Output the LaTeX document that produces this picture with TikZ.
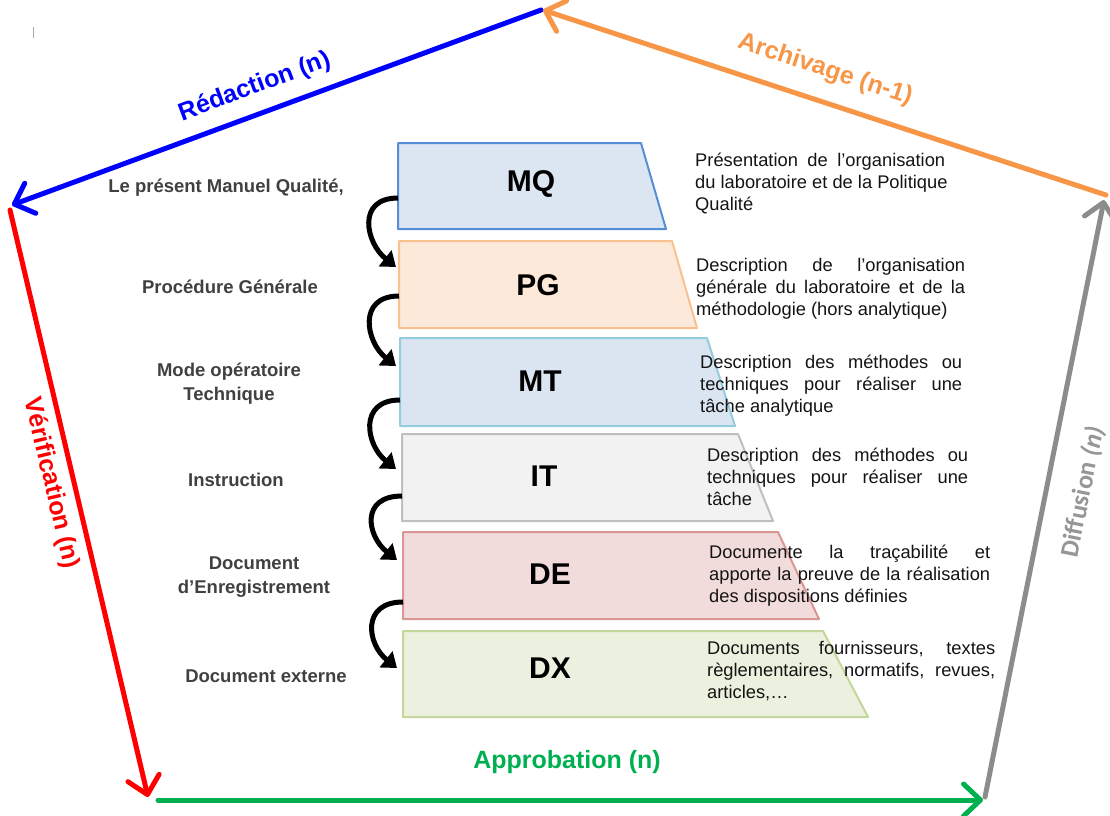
\documentclass[tikz,border=0pt]{standalone}
\usepackage{fontspec}
\setmainfont{Liberation Sans}
\newfontfamily\carlito{Carlito}
\usetikzlibrary{arrows.meta}
\definecolor{cblue}{RGB}{0,0,255}
\definecolor{cred}{RGB}{255,0,0}
\definecolor{cgreen}{RGB}{0,176,80}
\definecolor{cgray}{RGB}{140,140,140}
\definecolor{cgraytxt}{RGB}{150,150,150}
\definecolor{corange}{RGB}{247,150,70}
\definecolor{dgray}{RGB}{64,64,64}
\definecolor{txt}{RGB}{20,20,20}
\definecolor{mqfill}{RGB}{220,230,242}\definecolor{mqdraw}{RGB}{85,142,213}
\definecolor{pgfill}{RGB}{253,233,217}\definecolor{pgdraw}{RGB}{250,192,144}
\definecolor{mtfill}{RGB}{219,229,241}\definecolor{mtdraw}{RGB}{147,205,221}
\definecolor{itfill}{RGB}{242,242,242}\definecolor{itdraw}{RGB}{191,191,191}
\definecolor{defill}{RGB}{242,220,219}\definecolor{dedraw}{RGB}{217,150,148}
\definecolor{dxfill}{RGB}{235,241,222}\definecolor{dxdraw}{RGB}{195,214,155}
\newcommand{\jl}[2]{\makebox[#1][s]{#2}}
\begin{document}
\begin{tikzpicture}[x=1pt,y=-1pt,
  cycarrow/.style={line width=5pt,line cap=round,-{Straight Barb[length=17pt,width=32pt,round]}},
  cyclabel/.style={font=\fontsize{25}{28}\selectfont\bfseries,inner sep=0pt},
  trapbox/.style={line width=2pt,line join=round},
  boxlabel/.style={font=\fontsize{30}{32}\selectfont\bfseries,inner sep=0pt},
  leftlabel/.style={font=\fontsize{18.5}{24}\selectfont\bfseries,text=dgray,align=center,inner sep=0pt},
  desc/.style={font=\fontsize{18.3}{22}\selectfont,text=txt,align=left,inner sep=0pt,anchor=base west},
  flow/.style={line width=5pt,-{Triangle[length=14pt,width=20pt]}}]
\useasboundingbox (0,0) rectangle (1110,815);

% small mark
\coordinate (m1) at (33,27); \coordinate (m2) at (33,38);
\draw[gray!70,line width=0.8pt] (m1) -- (m2);

% cycle corners
\coordinate (topS) at (541,10);
\coordinate (leftE) at (12,205);
\coordinate (leftS) at (10,210);
\coordinate (blE) at (148,797);
\coordinate (blS) at (158,800);
\coordinate (brE) at (983,800);
\coordinate (brS) at (985,797);
\coordinate (rtE) at (1104,200);
\coordinate (rtS) at (1106,195);
\coordinate (topE) at (543,10);

\draw[cycarrow,cblue] (topS) -- (leftE);
\draw[cycarrow,cred] (leftS) -- (blE);
\draw[cycarrow,cgreen] (blS) -- (brE);
\draw[cycarrow,cgray] (brS) -- (rtE);
\draw[cycarrow,corange] (rtS) -- (topE);

\node[cyclabel,text=cblue,rotate=20.45] (lred) at (255,87) {Rédaction (n)};
\node[cyclabel,text=corange,rotate=-18.2] (larc) at (825,70) {Archivage (n-1)};
\node[cyclabel,text=cred,rotate=-76.8] (lver) at (51,483) {Vérification (n)};
\node[cyclabel,text=cgreen] (lapp) at (567,762) {Approbation (n)};
\node[cyclabel,text=cgraytxt,rotate=78.6,font=\carlito\fontsize{26}{28}\selectfont\bfseries] (ldif) at (1083,492) {Diffusion \textit{(n)}};

% trapezoids
\draw[trapbox,fill=mqfill,draw=mqdraw] (398,143) -- (641,143) -- (666,229) -- (398,229) -- cycle;
\draw[trapbox,fill=pgfill,draw=pgdraw] (399,241) -- (672,241) -- (697,328) -- (399,328) -- cycle;
\draw[trapbox,fill=mtfill,draw=mtdraw] (400,338) -- (707,338) -- (735,426) -- (400,426) -- cycle;
\draw[trapbox,fill=itfill,draw=itdraw] (402,434) -- (738,434) -- (773,521) -- (402,521) -- cycle;
\draw[trapbox,fill=defill,draw=dedraw] (403,532) -- (778,532) -- (819,619) -- (403,619) -- cycle;
\draw[trapbox,fill=dxfill,draw=dxdraw] (403,631) -- (823,631) -- (868,717) -- (403,717) -- cycle;

\node[boxlabel] (mq) at (531,184) {MQ};
\node[boxlabel] (pg) at (538,285) {PG};
\node[boxlabel] (mt) at (540,381) {MT};
\node[boxlabel] (it) at (544,476) {IT};
\node[boxlabel] (de) at (550,574) {DE};
\node[boxlabel] (dx) at (550,668) {DX};

% curved flow arrows
\coordinate (o1) at (398,198); \coordinate (i1) at (396,267);
\coordinate (o2) at (399,296); \coordinate (i2) at (396,366);
\coordinate (o3) at (400,400); \coordinate (i3) at (396,469);
\coordinate (o4) at (402,496); \coordinate (i4) at (397,560);
\coordinate (o5) at (403,602); \coordinate (i5) at (397,668);
\foreach \a/\b in {o1/i1,o2/i2,o3/i3,o4/i4,o5/i5}
  \draw[flow] (\a) .. controls +(-42,0) and +(-30,-24) .. (\b);

% left labels
\node[leftlabel] (l1) at (226,188) {Le présent Manuel Qualité,};
\node[leftlabel] (l2) at (230,287) {Procédure Générale};
\node[leftlabel] (l3) at (229,384) {Mode opératoire\\Technique};
\node[leftlabel] (l4) at (236,480) {Instruction};
\node[leftlabel] (l5) at (254,577) {Document\\d’Enregistrement};
\node[leftlabel] (l6) at (266,676) {Document externe};

% right descriptions (anchor = baseline of last line)
\node[desc] (d1) at (695,210) {\jl{250pt}{Présentation de l’organisation}\\du laboratoire et de la Politique\\Qualité};
\node[desc] (d2) at (696,315) {\jl{269pt}{Description de l’organisation}\\\jl{269pt}{générale du laboratoire et de la}\\méthodologie (hors analytique)};
\node[desc] (d3) at (700,412) {\jl{262pt}{Description des méthodes ou}\\\jl{262pt}{techniques pour réaliser une}\\tâche analytique};
\node[desc] (d4) at (707,505) {\jl{261pt}{Description des méthodes ou}\\\jl{261pt}{techniques pour réaliser une}\\tâche};
\node[desc] (d5) at (709,602) {\jl{281pt}{Documente la traçabilité et}\\\jl{281pt}{apporte la preuve de la réalisation}\\des dispositions définies};
\node[desc] (d6) at (707,698) {\jl{288pt}{Documents fournisseurs, textes}\\\jl{288pt}{règlementaires, normatifs, revues,}\\articles,…};
\end{tikzpicture}
\end{document}
